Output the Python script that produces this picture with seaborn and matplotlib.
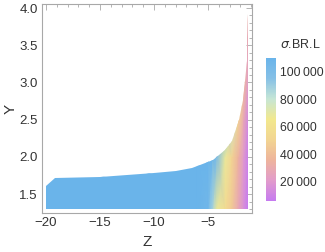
import numpy as np
import matplotlib
matplotlib.use("Agg")
import matplotlib.pyplot as plt
from matplotlib.path import Path
from matplotlib.patches import PathPatch
from matplotlib.colors import Normalize
from matplotlib.ticker import MultipleLocator
import seaborn as sns

# upper edge of the filled region (Z, Y)
edge_z = [-20, -19.2, -15, -10, -8, -6.5, -5.7, -4.5, -3.4, -2.8, -2.1, -1.8, -1.6, -1.42, -1.35, -1.3]
edge_y = [1.61, 1.71, 1.73, 1.78, 1.81, 1.85, 1.89, 1.96, 2.09, 2.22, 2.49, 2.76, 3.02, 3.29, 3.6, 3.92]
y_floor = 1.3

# sigma.BR.L sampled on a coarse (Y, Z) grid
grid_z = [-20, -6, -5, -4.6, -4.2, -3.4, -2.8, -2.2, -1.7, -1.3]
grid_y = [1.3, 2.0, 2.5, 3.0, 4.0]
sigma_br_l = [
    [110000, 110000, 106000, 88000, 68000, 55000, 45000, 28000, 15000, 6000],
    [110000, 110000, 110000, 110000, 100000, 68000, 50000, 35000, 20000, 8000],
    [110000, 110000, 110000, 110000, 110000, 100000, 78000, 50000, 28000, 12000],
    [110000, 110000, 110000, 110000, 110000, 110000, 98000, 68000, 40000, 20000],
    [110000, 110000, 110000, 110000, 110000, 110000, 110000, 88000, 55000, 30000],
]
v_min, v_max = 6000, 110000
cbar_ticks = [20000, 40000, 60000, 80000, 100000]

# pastel gradient, low -> high
pastel = ["#C67BF0", "#E29CCB", "#EEB49C", "#F2D592", "#F2E88E", "#C6E6D5", "#86C0E6", "#6AB4EA"]

sns.set_style("white")
plt.rcParams['font.family'] = ['Liberation Sans', 'DejaVu Sans']
cmap = sns.blend_palette(pastel, as_cmap=True)

fig = plt.figure(figsize=(3.25, 2.52), dpi=100)
ax = fig.add_axes([42 / 325, 1 - 213 / 252, 210 / 325, 209 / 252])

gz, gy = np.meshgrid(grid_z, grid_y)
mesh = ax.pcolormesh(gz, gy, np.array(sigma_br_l, dtype=float), shading='gouraud',
                     cmap=cmap, norm=Normalize(v_min, v_max))

verts = [(edge_z[0], y_floor), (edge_z[-1], y_floor)]
verts += list(zip(edge_z[::-1], edge_y[::-1]))
verts.append((edge_z[0], y_floor))
region = PathPatch(Path(verts, closed=True), transform=ax.transData,
                   facecolor='none', edgecolor='none')
ax.add_patch(region)
mesh.set_clip_path(region)

ax.set_xlim(-20.37, -0.93)
ax.set_ylim(1.246, 4.054)
ax.xaxis.set_major_locator(MultipleLocator(5))
ax.xaxis.set_minor_locator(MultipleLocator(1))
ax.yaxis.set_major_locator(MultipleLocator(0.5))
ax.yaxis.set_minor_locator(MultipleLocator(0.1))
ax.xaxis.set_major_formatter(lambda v, p: f"{v:.0f}".replace('-', '\u2212'))
ax.yaxis.set_major_formatter(lambda v, p: f"{v:.1f}")

frame_col = '#a8a8a8'
for s in ax.spines.values():
    s.set_color(frame_col)
    s.set_linewidth(0.8)
ax.tick_params(which='both', direction='in', top=True, right=True, color=frame_col,
               labelsize=9.5, labelcolor='#333333', width=0.6)
ax.tick_params(which='major', length=4, pad=3)
ax.tick_params(which='minor', length=2)
ax.set_xlabel('Z', fontsize=11, color='#333333', labelpad=4)
ax.set_ylabel('Y', fontsize=11, color='#333333')
ax.yaxis.set_label_coords(-0.115, 0.5)

cax = fig.add_axes([266 / 325, 1 - 201 / 252, 10 / 325, 143 / 252])
cb = fig.colorbar(mesh, cax=cax)
cb.outline.set_visible(False)
cb.set_ticks(cbar_ticks)
cb.set_ticklabels([f"{t:,}".replace(',', '\u2009') for t in cbar_ticks])
cax.tick_params(length=0, pad=3, labelsize=8.8, labelcolor='#333333')
fig.text(300 / 325, 1 - 45 / 252, r'$\sigma$.BR.L', ha='center', va='center',
         fontsize=9, color='#333333')

fig.savefig('out.png', dpi=100)
